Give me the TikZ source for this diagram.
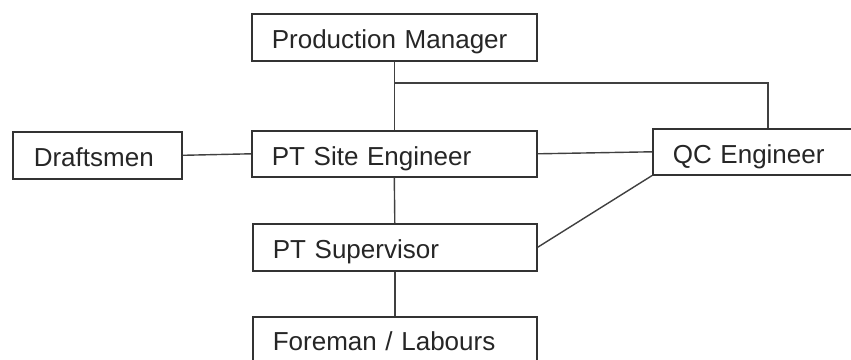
\documentclass[tikz,border=0pt]{standalone}
\usepackage{fontspec}
\setmainfont{Liberation Sans}
\begin{document}
\begin{tikzpicture}[x=1pt,y=-1pt,
  box/.style={draw=black!80, line width=1.6pt, rectangle, anchor=north west,
    inner xsep=20pt, inner ysep=0pt, align=left, text=black!85,
    text height=27pt, text depth=4pt,
    font=\fontsize{26}{30}\selectfont},
  link/.style={draw=black!75, line width=1.4pt}]
\clip (0,0) rectangle (851,359);
\fill[white] (0,0) rectangle (851,359);
\node[box, minimum width=285pt, text width=245pt, minimum height=47pt] (pm) at (251,13) {Production Manager};
\node[box, minimum width=168pt, text width=127pt, inner xsep=21pt, minimum height=47pt] (dr) at (12,131) {Draftsmen};
\node[box, minimum width=285pt, text width=245pt, minimum height=46pt] (pts) at (251,130) {PT Site Engineer};
\node[box, minimum width=230pt, text width=190pt, minimum height=46pt] (qc) at (652,128) {QC Engineer};
\node[box, minimum width=284pt, text width=244pt, minimum height=47pt] (sup) at (252,223) {PT Supervisor};
\node[box, minimum width=284pt, text width=244pt, minimum height=45pt] (fm) at (252,316) {Foreman / Labours};
\coordinate (j) at (pm.south |- 0,83);
\draw[link] (pm.south) -- (pts.north);
\draw[link] (j) -| (qc.north);
\draw[link] (dr.east) -- (pts.west);
\draw[link] (pts.east) -- (qc.west);
\draw[link] (pts.south) -- (sup.north);
\draw[link] (qc.south west) -- (sup.east);
\draw[link] (sup.south) -- (fm.north);
\end{tikzpicture}
\end{document}
